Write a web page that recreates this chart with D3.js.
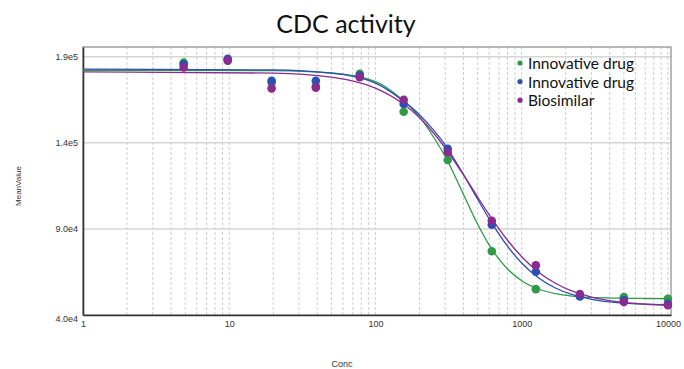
<!DOCTYPE html>
<html>
<head>
<meta charset="utf-8">
<script src="https://cdn.jsdelivr.net/npm/d3@7"></script>
<style>
  body { margin: 0; background: #fff; }
  svg { display: block; }
</style>
</head>
<body>
<div id="chart"></div>
<script>
// CDC activity dose-response chart

// measured points
var conc = [4.88, 9.77, 19.5, 39.1, 78.1, 156, 312, 625, 1250, 2500, 5000, 10000];
var innovativeA = [186500, 188000, 175000, 173000, 180000, 158000, 130000, 77000, 55000, 51000, 50400, 49400];
var innovativeB = [185500, 188700, 176000, 176000, 179000, 162500, 136500, 92400, 65100, 50800, 48500, 46500];
var biosimilar  = [183700, 187700, 171600, 172000, 178000, 165000, 134500, 94700, 68800, 52200, 47500, 45700];

// fitted curves
var fitConc = [1, 20, 50, 100, 150, 200, 250, 300, 400, 500, 600, 800, 1000, 1300, 1700, 2200, 3000, 4500, 7000, 10500];
var fitA = [182100, 181900, 180500, 175500, 165500, 155000, 143200, 132000, 110000, 92700, 80600, 66700, 59900, 55100, 52400, 51000, 50200, 49760, 49590, 49530];
var fitB = [182700, 182330, 180400, 174600, 165200, 156300, 147300, 138700, 121500, 107250, 95810, 79940, 70180, 61630, 55670, 51910, 49130, 47210, 46240, 45820];
var fitC = [181100, 180450, 178060, 171710, 163400, 154670, 145660, 136960, 121350, 108480, 98170, 83410, 73850, 65000, 58400, 53950, 50430, 47780, 46330, 45620];

var seriesNames = ["Innovative drug", "Innovative drug", "Biosimilar"];
var colors = ["#2f9a48", "#2d4fb3", "#8a2c8f"];

var xTicks = [1, 10, 100, 1000, 10000];
var yTicks = [40000, 90000, 140000, 190000];
var yTickLabels = ["4.0e4", "9.0e4", "1.4e5", "1.9e5"];

var width = 684, height = 369;
var margin = { left: 83, right: 13, top: 47, bottom: 54 };

var svg = d3.select("#chart").append("svg")
  .attr("width", width)
  .attr("height", height);

var x = d3.scaleLog()
  .domain([1, 10500])
  .range([margin.left, width - margin.right]);

var y = d3.scaleLinear()
  .domain([40000, 195600])
  .range([height - margin.bottom, margin.top]);

// vertical grid: every log tick, dashed
var minor = x.ticks().filter(function(d) { return d > 1; });
svg.append("g")
  .selectAll("line")
  .data(minor)
  .enter().append("line")
  .attr("x1", function(d) { return x(d); })
  .attr("x2", function(d) { return x(d); })
  .attr("y1", y.range()[1])
  .attr("y2", y.range()[0])
  .attr("stroke", "#cfcfcf")
  .attr("stroke-width", 1)
  .attr("stroke-dasharray", "3,2");

// horizontal grid
svg.append("g")
  .selectAll("line")
  .data(yTicks.slice(1))
  .enter().append("line")
  .attr("x1", x.range()[0])
  .attr("x2", x.range()[1])
  .attr("y1", function(d) { return y(d); })
  .attr("y2", function(d) { return y(d); })
  .attr("stroke", "#d6d6d6")
  .attr("stroke-width", 1.5);

// frame: top/right light, left/bottom dark
svg.append("rect")
  .attr("x", x.range()[0])
  .attr("y", y.range()[1])
  .attr("width", x.range()[1] - x.range()[0])
  .attr("height", y.range()[0] - y.range()[1])
  .attr("fill", "none")
  .attr("stroke", "#8a8a8a")
  .attr("stroke-width", 1.2);

var xAxis = d3.axisBottom(x)
  .tickValues(xTicks)
  .tickFormat(d3.format("d"))
  .tickSize(0)
  .tickPadding(6);

var yAxis = d3.axisLeft(y)
  .tickValues(yTicks)
  .tickFormat(function(d, i) { return yTickLabels[i]; })
  .tickSize(0)
  .tickPadding(5);

var gx = svg.append("g")
  .attr("transform", "translate(0," + y.range()[0] + ")")
  .call(xAxis);
var gy = svg.append("g")
  .attr("transform", "translate(" + x.range()[0] + ",0)")
  .call(yAxis);

[gx, gy].forEach(function(g) {
  g.select(".domain").attr("stroke", "#333").attr("stroke-width", 1.6);
  g.selectAll("text")
    .attr("font-family", "Liberation Sans, Arial, sans-serif")
    .attr("font-size", 9)
    .attr("fill", "#333");
});
gy.selectAll(".tick text").filter(function(d) { return d === 40000; }).attr("dy", "0.7em");

// curves
var line = d3.line()
  .x(function(d) { return x(d[0]); })
  .y(function(d) { return y(d[1]); })
  .curve(d3.curveMonotoneX);

var fits = [fitA, fitB, fitC];
var points = [innovativeA, innovativeB, biosimilar];

fits.forEach(function(f, i) {
  svg.append("path")
    .datum(fitConc.map(function(c, j) { return [c, f[j]]; }))
    .attr("fill", "none")
    .attr("stroke", colors[i])
    .attr("stroke-width", 1.3)
    .attr("d", line);
});

points.forEach(function(p, i) {
  svg.append("g")
    .selectAll("circle")
    .data(conc.map(function(c, j) { return [c, p[j]]; }))
    .enter().append("circle")
    .attr("cx", function(d) { return x(d[0]); })
    .attr("cy", function(d) { return y(d[1]); })
    .attr("r", 4.3)
    .attr("fill", colors[i]);
});

// title
svg.append("text")
  .attr("x", 346)
  .attr("y", 33)
  .attr("text-anchor", "middle")
  .attr("font-family", "Lato, Open Sans, sans-serif")
  .attr("font-size", 25)
  .attr("fill", "#111")
  .text("CDC activity");

// axis titles
svg.append("text")
  .attr("transform", "translate(21,186) rotate(-90)")
  .attr("text-anchor", "middle")
  .attr("font-family", "Liberation Sans, Arial, sans-serif")
  .attr("font-size", 8)
  .attr("fill", "#333")
  .text("MeanValue");

svg.append("text")
  .attr("x", 342)
  .attr("y", 367)
  .attr("text-anchor", "middle")
  .attr("font-family", "Liberation Sans, Arial, sans-serif")
  .attr("font-size", 9)
  .attr("fill", "#333")
  .text("Conc");

// legend
var legend = svg.append("g")
  .attr("transform", "translate(520,63)");
var item = legend.selectAll("g")
  .data(seriesNames)
  .enter().append("g")
  .attr("transform", function(d, i) { return "translate(0," + i * 18.6 + ")"; });
item.append("circle")
  .attr("r", 2.6)
  .attr("fill", function(d, i) { return colors[i]; });
item.append("text")
  .attr("x", 8)
  .attr("y", 6)
  .attr("font-family", "Lato, Open Sans, sans-serif")
  .attr("font-size", 15.5)
  .attr("fill", "#111")
  .text(function(d) { return d; });
</script>
</body>
</html>
